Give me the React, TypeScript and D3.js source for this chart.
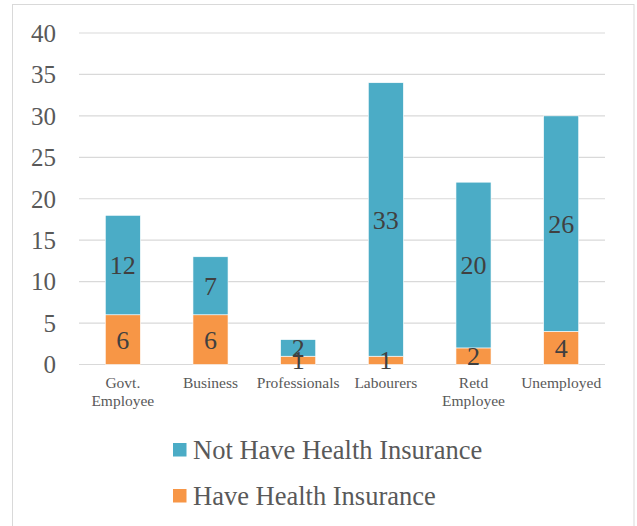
import React from "react";
import * as d3 from "d3";

const categories = ["Govt.\nEmployee", "Business", "Professionals", "Labourers", "Retd\nEmployee", "Unemployed"];
const haveInsurance = [6, 6, 1, 1, 2, 4];
const notHaveInsurance = [12, 7, 2, 33, 20, 26];
const yTicks = [0, 5, 10, 15, 20, 25, 30, 35, 40];
const seriesNames = ["Not Have Health Insurance", "Have Health Insurance"];
const colors = { not: "#4BACC6", have: "#F79646" };

const W = 637;
const H = 526;
const FONT = "'Times New Roman', 'Liberation Serif', Tinos, serif";

export default function App() {
  const x = d3.scaleBand<string>().domain(categories).range([79, 605]).paddingInner(0.6).paddingOuter(0.3);
  const y = d3.scaleLinear().domain([0, 40]).range([364.5, 33]);
  const keys = ["have", "not"];
  const rows = categories.map((c, i) => ({ cat: c, have: haveInsurance[i], not: notHaveInsurance[i] }));
  const stack = d3.stack<any>().keys(keys)(rows);

  return (
    <svg width={W} height={H} style={{ position: "absolute", left: 0, top: 0, background: "#fff", fontFamily: FONT }}>
      <rect x={12.5} y={4.5} width={621.5} height={H + 10} fill="#fff" stroke="#d9d9d9" strokeWidth={1} />
      {yTicks.map((t) => (
        <g key={t}>
          <line x1={79} x2={605} y1={y(t)} y2={y(t)} stroke="#d9d9d9" strokeWidth={1.2} />
          <text x={56} y={y(t)} dy="0.35em" textAnchor="end" fontSize={25} fill="#595959">
            {t}
          </text>
        </g>
      ))}
      {stack.map((s) => (
        <g key={s.key}>
          {s.map((d, i) => (
            <rect
              key={i}
              x={x(categories[i])!}
              width={x.bandwidth()}
              y={y(d[1])}
              height={y(d[0]) - y(d[1])}
              fill={s.key === "have" ? colors.have : colors.not}
              stroke="#fff"
              strokeWidth={0.6}
            />
          ))}
        </g>
      ))}
      {stack.map((s) => (
        <g key={s.key + "l"}>
          {s.map((d, i) => (
            <text
              key={i}
              x={x(categories[i])! + x.bandwidth() / 2}
              y={(y(d[0]) + y(d[1])) / 2}
              dy="0.35em"
              textAnchor="middle"
              fontSize={26}
              fill="#404040"
            >
              {d[1] - d[0]}
            </text>
          ))}
        </g>
      ))}
      {categories.map((c) => (
        <text key={c} x={x(c)! + x.bandwidth() / 2} y={388} textAnchor="middle" fontSize={15.5} fill="#595959">
          {c.split("\n").map((line, j) => (
            <tspan key={j} x={x(c)! + x.bandwidth() / 2} dy={j === 0 ? 0 : 18}>
              {line}
            </tspan>
          ))}
        </text>
      ))}
      {seriesNames.map((n, i) => (
        <g key={n} transform={`translate(173, ${443 + i * 46})`}>
          <rect width={13.5} height={13.5} fill={i === 0 ? colors.not : colors.have} />
          <text x={20} y={16} fontSize={26.5} fill="#595959">
            {n}
          </text>
        </g>
      ))}
    </svg>
  );
}
